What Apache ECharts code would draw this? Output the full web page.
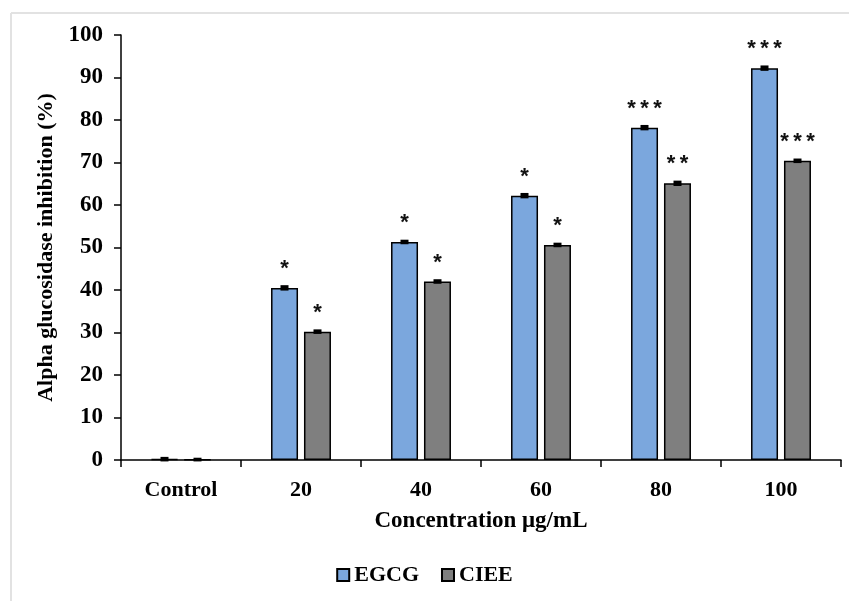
<!DOCTYPE html>
<html>
<head>
<meta charset="utf-8">
<script src="https://cdn.jsdelivr.net/npm/echarts@6/dist/echarts.min.js"></script>
<style>
    html, body { margin: 0; padding: 0; background: #fff; }
    #main { width: 849px; height: 601px; }
</style>
</head>
<body>
<div id="main"></div>
<script>
var categories = ['Control', '20', '40', '60', '80', '100'];
var egcg = [0.2, 40.5, 51.3, 62.2, 78.2, 92.2];
var ciee = [0.1, 30.2, 42.0, 50.6, 65.1, 70.4];
var egcgErr = [0.3, 0.4, 0.3, 0.4, 0.4, 0.4];
var cieeErr = [0.2, 0.3, 0.3, 0.3, 0.4, 0.3];
var egcgStars = ['', '*', '*', '*', '***', '***'];
var cieeStars = ['', '*', '*', '*', '**', '***'];
var yTicks = [0, 10, 20, 30, 40, 50, 60, 70, 80, 90, 100];

var serif = '"Liberation Serif", "DejaVu Serif", serif';

function errSeries(vals, errs, side) {
    return {
        type: 'custom',
        silent: true,
        z: 5,
        data: vals.map(function (v, i) { return [i, v, errs[i]]; }),
        renderItem: function (params, api) {
            var band = api.size([1, 0])[0];
            var off = side * band * 0.1375;
            var top = api.coord([api.value(0), api.value(1) + api.value(2)]);
            var bot = api.coord([api.value(0), api.value(1) - api.value(2)]);
            var x = top[0] + off;
            return {
                type: 'rect',
                shape: { x: x - 4, y: top[1] - 1, width: 8, height: Math.max(bot[1] - top[1], 0) + 2 },
                style: { fill: '#000' }
            };
        }
    };
}

function barLabel(stars) {
    return {
        show: true,
        position: 'top',
        distance: 8,
        formatter: function (p) { return stars[p.dataIndex].split('').join('\u2009'); },
        fontFamily: '"Liberation Sans", Arial, sans-serif',
        fontWeight: 'bold',
        fontSize: 22,
        color: '#111'
    };
}

var option = {
    backgroundColor: '#fff',
    animation: false,
    graphic: [
        { type: 'line', shape: { x1: 11, y1: 13, x2: 849, y2: 13 }, style: { stroke: '#e2e2e2', lineWidth: 2 } },
        { type: 'line', shape: { x1: 11, y1: 13, x2: 11, y2: 601 }, style: { stroke: '#e2e2e2', lineWidth: 2 } }
    ],
    grid: { left: 121, right: 8, top: 35, bottom: 141 },
    legend: {
        bottom: 10,
        left: 'center',
        itemWidth: 12,
        itemHeight: 12,
        itemGap: 22,
        icon: 'rect',
        textStyle: { fontFamily: serif, fontWeight: 'bold', fontSize: 22, color: '#000' },
        data: ['EGCG', 'CIEE']
    },
    xAxis: {
        type: 'category',
        data: categories,
        name: 'Concentration μg/mL',
        nameLocation: 'middle',
        nameGap: 50,
        nameMoveOverlap: false,
        nameTextStyle: { fontFamily: serif, fontWeight: 'bold', fontSize: 23, color: '#000' },
        axisLine: { lineStyle: { color: '#000', width: 1.5 } },
        axisTick: { show: true, length: 7, lineStyle: { color: '#000', width: 1.5 } },
        axisLabel: { fontFamily: serif, fontWeight: 'bold', fontSize: 22, color: '#000', margin: 19 }
    },
    yAxis: {
        type: 'value',
        min: yTicks[0],
        max: yTicks[yTicks.length - 1],
        interval: 10,
        name: 'Alpha glucosidase inhibition (%)',
        nameLocation: 'middle',
        nameGap: 60,
        nameTextStyle: { fontFamily: serif, fontWeight: 'bold', fontSize: 22, color: '#000' },
        axisLine: { show: true, lineStyle: { color: '#000', width: 1.5 } },
        axisTick: { show: true, length: 7, lineStyle: { color: '#000', width: 1.5 } },
        axisLabel: { fontFamily: serif, fontWeight: 'bold', fontSize: 23, color: '#000', margin: 18 },
        splitLine: { show: false }
    },
    series: [
        {
            name: 'EGCG',
            type: 'bar',
            data: egcg,
            barWidth: 27,
            barGap: '22%',
            itemStyle: { color: '#7ba7dd', borderColor: '#000', borderWidth: 1.5 },
            label: barLabel(egcgStars)
        },
        {
            name: 'CIEE',
            type: 'bar',
            data: ciee,
            barWidth: 27,
            itemStyle: { color: '#7f7f7f', borderColor: '#000', borderWidth: 1.5 },
            label: barLabel(cieeStars)
        },
        errSeries(egcg, egcgErr, -1),
        errSeries(ciee, cieeErr, 1)
    ]
};

var myChart = echarts.init(document.getElementById('main'));
myChart.setOption(option);
</script>
</body>
</html>
